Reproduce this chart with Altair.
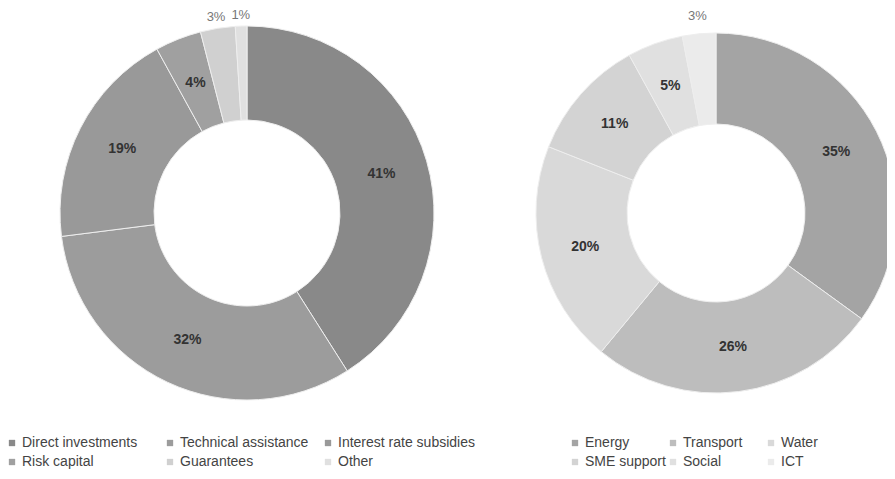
import altair as alt
import pandas as pd

# Left donut: instruments
left_cats = ["Direct investments", "Technical assistance", "Interest rate subsidies",
             "Risk capital", "Guarantees", "Other"]
left_vals = [41, 32, 19, 4, 3, 1]
left_colors = ["#898989", "#9c9c9c", "#999999", "#a0a0a0", "#d0d0d0", "#e0e0e0"]

# Right donut: sectors
right_cats = ["Energy", "Transport", "Water", "SME support", "Social", "ICT"]
right_vals = [35, 26, 20, 11, 5, 3]
right_colors = ["#a4a4a4", "#bdbdbd", "#d9d9d9", "#d3d3d3", "#e0e0e0", "#ebebeb"]

FONT = "Liberation Sans"


def make_df(cats, vals):
    df = pd.DataFrame({"cat": cats, "val": vals, "idx": list(range(len(cats)))})
    df["lab"] = df["val"].astype(str) + "%"
    df["inner"] = [l if v >= 4 else "" for l, v in zip(df["lab"], df["val"])]
    df["outer"] = [l if v < 4 else "" for l, v in zip(df["lab"], df["val"])]
    return df


def donut(df, cats, colors, cx, cy, r_in, r_out, r_lab, r_out_lab, lx, ly, cpad):
    base = alt.Chart(df).encode(
        theta=alt.Theta("val:Q", stack=True),
        order=alt.Order("idx:Q"),
        x=alt.value(cx),
        y=alt.value(cy),
    )
    arcs = base.mark_arc(innerRadius=r_in, outerRadius=r_out, stroke="#eeeeee",
                         strokeWidth=1).encode(
        color=alt.Color(
            "cat:N",
            scale=alt.Scale(domain=cats, range=colors),
            sort=cats,
            legend=alt.Legend(
                title=None, orient="none", legendX=lx, legendY=ly,
                direction="horizontal", columns=3, columnPadding=cpad, rowPadding=5,
                symbolType="square", symbolSize=40, symbolStrokeWidth=0,
                labelFont=FONT, labelFontSize=14, labelColor="#444",
                labelOffset=3, gridAlign="all",
            ),
        )
    )
    inner = base.mark_text(radius=r_lab, font=FONT, fontSize=14, fontWeight="bold",
                           color="#333").encode(text="inner:N")
    outer = base.mark_text(radius=r_out_lab, font=FONT, fontSize=13,
                           color="#777").encode(text="outer:N")
    return alt.layer(arcs, inner, outer)


left = donut(make_df(left_cats, left_vals), left_cats, left_colors,
             239, 205, 93, 187, 140, 198, -3, 428, 4)
right = donut(make_df(right_cats, right_vals), right_cats, right_colors,
              708, 205, 89, 180, 135, 198, 560, 428, 0)

chart = alt.layer(left, right).resolve_scale(color="independent").properties(
    width=879, height=463, padding=0, autosize="none", background="white"
).configure_view(strokeWidth=0, stroke="transparent")

chart.save("out.html", embed_options={"renderer": "svg", "actions": False})
